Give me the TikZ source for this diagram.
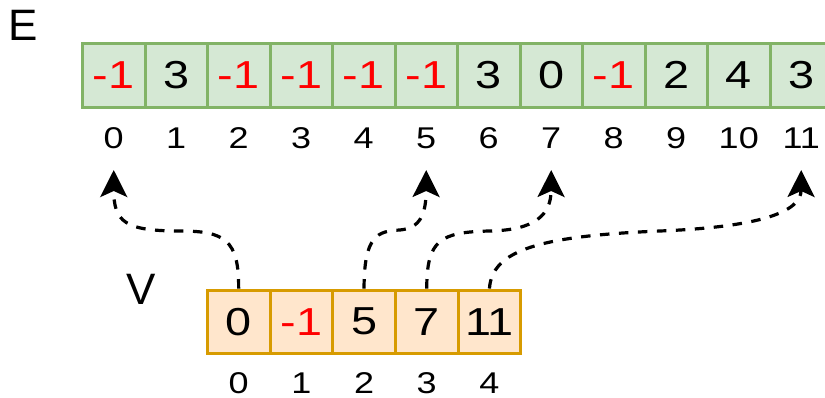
\documentclass[tikz,border=0pt]{standalone}
\usepackage{fontspec}
\setmainfont{Liberation Sans}
\newfontfamily\digitfont{Liberation Sans}[FakeStretch=1.2]
\usetikzlibrary{arrows.meta}
\definecolor{gfill}{HTML}{D5E8D4}
\definecolor{gline}{HTML}{82B366}
\definecolor{ofill}{HTML}{FFE6CC}
\definecolor{oline}{HTML}{D79B00}
\definecolor{neg}{HTML}{FF0000}
\begin{document}
\begin{tikzpicture}[x=1pt,y=-1pt,
  ecell/.style={draw=gline,fill=gfill,line width=3pt,minimum width=62.5pt,minimum height=64pt,inner sep=0pt,font=\digitfont\fontsize{39}{39}\selectfont},
  vcell/.style={draw=oline,fill=ofill,line width=3pt,minimum width=62.7pt,minimum height=63.3pt,inner sep=0pt,font=\digitfont\fontsize{39}{39}\selectfont},
  idx/.style={inner sep=0pt,font=\digitfont\fontsize{30}{30}\selectfont},
  title/.style={inner sep=0pt,font=\fontsize{44}{44}\selectfont},
  conn/.style={line width=3.2pt,dash pattern=on 9.5pt off 9.5pt,-{Stealth[length=27pt,width=27pt,inset=6pt]}}
]
\useasboundingbox (0,0) rectangle (825,398);
\node[title] (E) at (23,25) {E};
\node[title] (V) at (141,289) {V};
% E array
\foreach \i/\v/\c in {0/-1/neg,1/3/black,2/-1/neg,3/-1/neg,4/-1/neg,5/-1/neg,6/3/black,7/0/black,8/-1/neg,9/2/black,10/4/black,11/3/black}{
  \node[ecell,text=\c] (e\i) at ({113.75+62.5*\i},75.3) {\v};
  \node[idx] (ei\i) at ({113.75+62.5*\i},138.5) {\i};
}
% V array
\foreach \i/\v/\c in {0/0/black,1/-1/neg,2/5/black,3/7/black,4/11/black}{
  \node[vcell,text=\c] (v\i) at ({238.65+62.7*\i},321.7) {\v};
  \node[idx] (vi\i) at ({238.65+62.7*\i},383.3) {\i};
}
\coordinate (t0) at (ei0 |- 0,170);
\coordinate (t5) at (ei5 |- 0,170);
\coordinate (t7) at (ei7 |- 0,170);
\coordinate (t11) at (ei11 |- 0,170);
\draw[conn] (v0.north) .. controls (239,240) and (225,231) .. (180,231) .. controls (125,231) and (113.75,222) .. (t0);
\draw[conn] (v2.north) .. controls (364,235) and (378,231) .. (400,230) .. controls (420,228) and (426,215) .. (t5);
\draw[conn] (v3.north) .. controls (426.75,240) and (440,232) .. (490,231) .. controls (535,230) and (551,215) .. (t7);
\draw[conn] (v4.north) .. controls (492,250) and (540,236) .. (660,231) .. controls (760,227) and (801,212) .. (t11);
\end{tikzpicture}
\end{document}
